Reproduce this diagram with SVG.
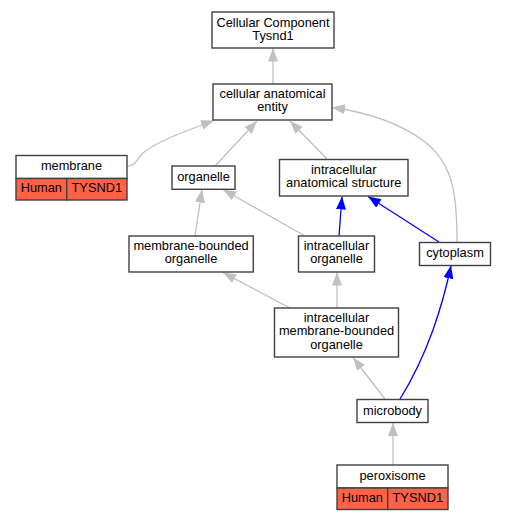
<svg xmlns="http://www.w3.org/2000/svg" width="505" height="520" viewBox="0 0 505 520">
<style>
.n rect{fill:#fff;stroke:#404040;stroke-width:1.4}
.n rect.r{fill:#ff6347}
text{font-family:"Liberation Sans",Arial,sans-serif;font-size:12.8px;fill:#000;text-anchor:middle}
.e path{fill:none;stroke-width:1.3}
.g{stroke:#c0c0c0;marker-end:url(#ag)}
.b{stroke:#0000ff;marker-end:url(#ab)}
</style>
<defs>
<marker id="ag" markerUnits="userSpaceOnUse" markerWidth="14" markerHeight="11" refX="13" refY="5" orient="auto"><path d="M0,0 L13,5 L0,10 z" fill="#c0c0c0"/></marker>
<marker id="ab" markerUnits="userSpaceOnUse" markerWidth="14" markerHeight="11" refX="13" refY="5" orient="auto"><path d="M0,0 L13,5 L0,10 z" fill="#0000ff"/></marker>
</defs>
<rect width="505" height="520" fill="#fff"/>
<g id="edges" class="e">
<path class="g" d="M273,84 L273,48.5"/>
<path class="g" d="M127,166 C135,166 137,160 142,154 C150,145 182,132 214,120.5"/>
<path class="g" d="M215,166 L257,121"/>
<path class="g" d="M327,159 L290,121"/>
<path class="g" d="M457,242 C457,200 455,165 425,142 C400,123 365,112 332,107.5"/>
<path class="g" d="M195,236 L202,189.5"/>
<path class="g" d="M305,236 L223,189.5"/>
<path class="b" d="M339,236 L342,196.5"/>
<path class="b" d="M439,242 L368,196.5"/>
<path class="g" d="M290,308 L223,272.5"/>
<path class="g" d="M337,308 L337,272.5"/>
<path class="g" d="M385,399 L353,357.5"/>
<path class="b" d="M400,399 C415,375 425,352 433,330 C440,310 446,290 451,265.5"/>
<path class="g" d="M393,465 L393,423"/>
</g>
<g id="top" class="n"><rect x="212" y="12" width="122" height="36"/><text x="273" y="26.5">Cellular Component</text><text x="273" y="39.5">Tysnd1</text></g>
<g id="cae" class="n"><rect x="213" y="84" width="119" height="36"/><text x="272.5" y="98">cellular anatomical</text><text x="272.5" y="111">entity</text></g>
<g id="membrane" class="n"><rect x="16" y="155.5" width="111" height="23"/><rect class="r" x="16" y="178.5" width="50.7" height="21.5"/><rect class="r" x="66.7" y="178.5" width="60.3" height="21.5"/><text x="71.5" y="169.5">membrane</text><text x="41.3" y="192">Human</text><text x="96.8" y="192">TYSND1</text></g>
<g id="organelle" class="n"><rect x="172" y="166" width="63" height="23.3"/><text x="203.5" y="181">organelle</text></g>
<g id="ias" class="n"><rect x="279.5" y="159.5" width="128.5" height="36.5"/><text x="343.7" y="174">intracellular</text><text x="343.7" y="187">anatomical structure</text></g>
<g id="mbo" class="n"><rect x="129" y="236" width="124.3" height="36"/><text x="191" y="250">membrane-bounded</text><text x="191" y="263">organelle</text></g>
<g id="io" class="n"><rect x="298.5" y="236" width="76" height="36"/><text x="336.5" y="250">intracellular</text><text x="336.5" y="263">organelle</text></g>
<g id="cytoplasm" class="n"><rect x="419.5" y="242.5" width="71" height="23"/><text x="455" y="257">cytoplasm</text></g>
<g id="imbo" class="n"><rect x="274.5" y="308" width="124" height="49"/><text x="336.5" y="322">intracellular</text><text x="336.5" y="335">membrane-bounded</text><text x="336.5" y="348.5">organelle</text></g>
<g id="microbody" class="n"><rect x="357" y="399.5" width="71" height="23"/><text x="392.5" y="414.5">microbody</text></g>
<g id="peroxisome" class="n"><rect x="337" y="465" width="111" height="23"/><rect class="r" x="337" y="488" width="50.7" height="21.5"/><rect class="r" x="387.7" y="488" width="60.3" height="21.5"/><text x="392.5" y="479.5">peroxisome</text><text x="362.3" y="501.5">Human</text><text x="417.8" y="501.5">TYSND1</text></g>
</svg>
